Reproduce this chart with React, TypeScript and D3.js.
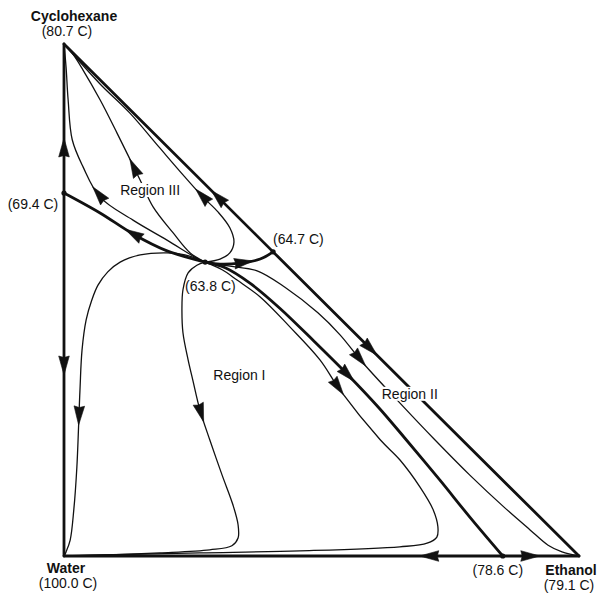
import React, { useEffect, useRef } from "react";
import * as d3 from "d3";

// Compositions as [ethanol fraction, cyclohexane fraction]; water = 1 - both.
type P = [number, number];

const pureNames = ["Cyclohexane", "Water", "Ethanol"];
const pureTemps = ["(80.7 C)", "(100.0 C)", "(79.1 C)"];
const pureComps: P[] = [[0, 1], [0, 0], [1, 0]];

const azeoLabels = ["(69.4 C)", "(64.7 C)", "(63.8 C)", "(78.6 C)"];
const azeoComps: P[] = [[0, 0.709], [0.406, 0.594], [0.274, 0.574], [0.852, 0]];

const regionNames = ["Region III", "Region I", "Region II"];

// Edges of the triangle, split at the binary azeotropes (thick)
const leftUp: P[] = [[0, 0.709], [0, 1]];
const leftDown: P[] = [[0, 0.709], [0, 0]];
const hypUp: P[] = [[0.406, 0.594], [0, 1]];
const hypDown: P[] = [[0.406, 0.594], [1, 0]];
const bottomLeft: P[] = [[0.852, 0], [0, 0]];
const bottomRight: P[] = [[0.852, 0], [1, 0]];

// Distillation boundaries from the ternary azeotrope (thick)
const sep69: P[] = [[0.274, 0.574], [0.2, 0.596], [0.134, 0.629], [0.07, 0.67], [0, 0.709]];
const sep64: P[] = [[0.274, 0.574], [0.303, 0.57], [0.342, 0.572], [0.381, 0.58], [0.406, 0.594]];
const sep78: P[] = [
  [0.274, 0.574], [0.313, 0.563], [0.361, 0.533], [0.419, 0.484], [0.487, 0.418],
  [0.551, 0.354], [0.61, 0.291], [0.662, 0.23], [0.73, 0.148], [0.788, 0.076], [0.852, 0],
];

// Residue curves (thin)
const curveA: P[] = [
  [0.274, 0.574], [0.264, 0.578], [0.2, 0.617], [0.134, 0.656], [0.07, 0.701],
  [0.037, 0.76], [0.016, 0.813], [0.008, 0.891], [0.004, 0.955], [0, 1],
];
const curveB: P[] = [
  [0.274, 0.574], [0.245, 0.592], [0.212, 0.631], [0.173, 0.682], [0.148, 0.734],
  [0.103, 0.826], [0.07, 0.891], [0.037, 0.949], [0.016, 0.982], [0, 1],
];
const curveC: P[] = [
  [0.274, 0.574], [0.303, 0.58], [0.322, 0.592], [0.33, 0.613], [0.322, 0.641],
  [0.299, 0.672], [0.27, 0.701], [0.235, 0.74], [0.186, 0.797], [0.128, 0.865],
  [0.07, 0.922], [0, 1],
];
const curveD: P[] = [
  [0.274, 0.574], [0.235, 0.588], [0.2, 0.592], [0.148, 0.588], [0.109, 0.574],
  [0.085, 0.555], [0.066, 0.529], [0.054, 0.5], [0.043, 0.461], [0.035, 0.402],
  [0.031, 0.324], [0.025, 0.174], [0.019, 0.09], [0.012, 0.031], [0.004, 0.008], [0, 0],
];
const curveE: P[] = [
  [0.274, 0.574], [0.258, 0.568], [0.241, 0.553], [0.231, 0.52], [0.229, 0.48],
  [0.231, 0.436], [0.241, 0.383], [0.25, 0.344], [0.264, 0.285], [0.283, 0.227],
  [0.307, 0.158], [0.328, 0.1], [0.338, 0.061], [0.338, 0.035], [0.326, 0.02],
  [0.283, 0.012], [0.186, 0.006], [0.089, 0.002], [0, 0],
];
const curveF: P[] = [
  [0.274, 0.574], [0.307, 0.559], [0.336, 0.539], [0.381, 0.506], [0.439, 0.447],
  [0.497, 0.383], [0.536, 0.324], [0.614, 0.227], [0.652, 0.188], [0.691, 0.135],
  [0.717, 0.09], [0.726, 0.057], [0.724, 0.037], [0.705, 0.025], [0.652, 0.018],
  [0.458, 0.01], [0.264, 0.006], [0.07, 0.002], [0, 0],
];
const curveG: P[] = [
  [0.274, 0.574], [0.322, 0.566], [0.375, 0.557], [0.429, 0.525], [0.493, 0.475],
  [0.536, 0.432], [0.579, 0.379], [0.652, 0.299], [0.72, 0.227], [0.788, 0.158],
  [0.856, 0.094], [0.905, 0.051], [0.94, 0.021], [0.967, 0.008], [1, 0],
];

// Arrow tips (composition near which the arrow tip sits) for each curve
const arrowCurves = [
  "leftUp", "leftDown", "hypUp", "hypDown", "bottomLeft", "bottomRight",
  "sep69", "sep64", "sep78", "curveA", "curveB", "curveC", "curveD", "curveE", "curveF", "curveG",
];
const arrowTips: P[] = [
  [0, 0.816], [0, 0.354], [0.289, 0.717], [0.608, 0.393], [0.691, 0], [0.924, 0],
  [0.118, 0.637], [0.367, 0.576], [0.561, 0.338], [0.06, 0.723], [0.126, 0.775],
  [0.26, 0.721], [0.029, 0.256], [0.27, 0.262], [0.542, 0.314], [0.584, 0.369],
];

const thickCurves: Record<string, P[]> = {
  leftUp, leftDown, hypUp, hypDown, bottomLeft, bottomRight, sep69, sep64, sep78,
};
const thinCurves: Record<string, P[]> = { curveA, curveB, curveC, curveD, curveE, curveF, curveG };

const FONT = "'Liberation Sans', Arial, Helvetica, sans-serif";

export default function App() {
  const ref = useRef<SVGSVGElement | null>(null);

  useEffect(() => {
    const svg = d3.select(ref.current);
    svg.selectAll("*").remove();

    const x = d3.scaleLinear().domain([0, 1]).range([64, 579]);
    const y = d3.scaleLinear().domain([0, 1]).range([556, 44]);
    const line = d3
      .line<P>()
      .x((d) => x(d[0]))
      .y((d) => y(d[1]))
      .curve(d3.curveCatmullRom.alpha(0.5));

    const paths: Record<string, SVGPathElement> = {};
    const gThin = svg.append("g");
    const gThick = svg.append("g");

    Object.entries(thinCurves).forEach(([k, pts]) => {
      const p = gThin
        .append("path")
        .attr("d", line(pts))
        .attr("fill", "none")
        .attr("stroke", "#111")
        .attr("stroke-width", 1.3)
        .attr("stroke-linejoin", "round");
      paths[k] = p.node() as SVGPathElement;
    });
    Object.entries(thickCurves).forEach(([k, pts]) => {
      const p = gThick
        .append("path")
        .attr("d", line(pts))
        .attr("fill", "none")
        .attr("stroke", "#111")
        .attr("stroke-width", 2.8)
        .attr("stroke-linejoin", "round")
        .attr("stroke-linecap", "round");
      paths[k] = p.node() as SVGPathElement;
    });

    // arrowheads
    const gArrows = svg.append("g");
    const AL = 19;
    const AW = 5.3;
    arrowCurves.forEach((k, i) => {
      const path = paths[k];
      const total = path.getTotalLength();
      const tx = x(arrowTips[i][0]);
      const ty = y(arrowTips[i][1]);
      let best = 0;
      let bestD = Infinity;
      for (let s = 0; s <= total; s += 0.5) {
        const pt = path.getPointAtLength(s);
        const dd = (pt.x - tx) ** 2 + (pt.y - ty) ** 2;
        if (dd < bestD) {
          bestD = dd;
          best = s;
        }
      }
      const sTip = Math.max(best, AL);
      const tip = path.getPointAtLength(sTip);
      const base = path.getPointAtLength(sTip - AL);
      const dx = tip.x - base.x;
      const dy = tip.y - base.y;
      const len = Math.hypot(dx, dy) || 1;
      const ux = dx / len;
      const uy = dy / len;
      const bx = tip.x - ux * AL;
      const by = tip.y - uy * AL;
      const pts = [
        [tip.x, tip.y],
        [bx - uy * AW, by + ux * AW],
        [bx + ux * 1.5, by + uy * 1.5],
        [bx + uy * AW, by - ux * AW],
      ];
      gArrows
        .append("path")
        .attr("d", "M" + pts.map((p) => p.join(",")).join("L") + "Z")
        .attr("fill", "#111")
        .attr("stroke", "#111")
        .attr("stroke-width", 0.6)
        .attr("stroke-linejoin", "round");
    });

    // dots at azeotropes
    svg
      .append("g")
      .selectAll("circle")
      .data(azeoComps)
      .join("circle")
      .attr("cx", (d) => x(d[0]))
      .attr("cy", (d) => y(d[1]))
      .attr("r", 2.6)
      .attr("fill", "#111");

    const gText = svg.append("g").attr("font-family", FONT).attr("font-size", 14).attr("fill", "#111");

    // pure component labels
    const nameOffsets = [[10, -23], [2, 17], [-8, 19]];
    const tempOffsets = [[3, -8], [4, 32], [-10, 34]];
    pureComps.forEach((c, i) => {
      gText
        .append("text")
        .attr("x", x(c[0]) + nameOffsets[i][0])
        .attr("y", y(c[1]) + nameOffsets[i][1])
        .attr("text-anchor", "middle")
        .attr("font-weight", "bold")
        .text(pureNames[i]);
      gText
        .append("text")
        .attr("x", x(c[0]) + tempOffsets[i][0])
        .attr("y", y(c[1]) + tempOffsets[i][1])
        .attr("text-anchor", "middle")
        .text(pureTemps[i]);
    });

    // azeotrope labels
    const azeoOffsets = [[-31, 16], [0, -8], [-20, 29], [-5, 19]];
    const azeoAnchors = ["middle", "start", "start", "middle"];
    azeoComps.forEach((c, i) => {
      gText
        .append("text")
        .attr("x", x(c[0]) + azeoOffsets[i][0])
        .attr("y", y(c[1]) + azeoOffsets[i][1])
        .attr("text-anchor", azeoAnchors[i])
        .text(azeoLabels[i]);
    });

    // region labels (placed in composition space)
    const regionComps: P[] = [[0.109, 0.705], [0.29, 0.344], [0.617, 0.307]];
    const regionBg = [true, false, true];
    regionNames.forEach((name, i) => {
      const t = gText
        .append("text")
        .attr("x", x(regionComps[i][0]))
        .attr("y", y(regionComps[i][1]))
        .text(name);
      if (regionBg[i]) {
        const bb = (t.node() as SVGTextElement).getBBox();
        gText
          .insert("rect", () => t.node() as any)
          .attr("x", bb.x - 2)
          .attr("y", bb.y + 1)
          .attr("width", bb.width + 4)
          .attr("height", bb.height - 2)
          .attr("fill", "#fff");
      }
    });
  }, []);

  return (
    <svg
      ref={ref}
      width={598}
      height={596}
      style={{ position: "absolute", left: 0, top: 0, background: "#fff" }}
    />
  );
}
